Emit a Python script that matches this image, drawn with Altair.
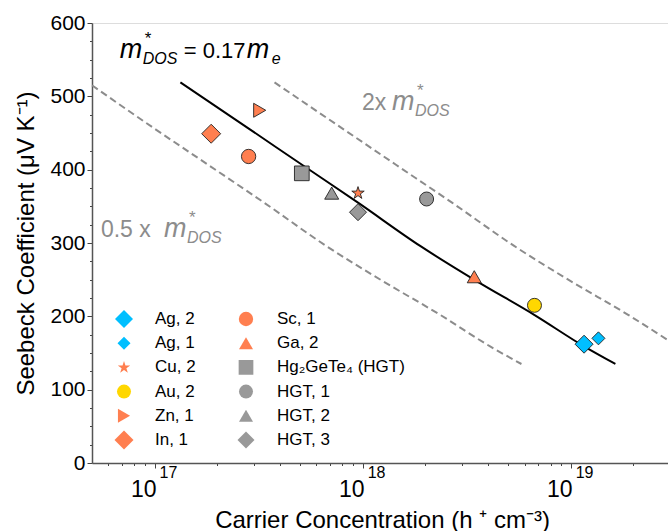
import altair as alt
import pandas as pd

# ---------------- data ----------------
series = ["Ag, 2", "Ag, 1", "Cu, 2", "Au, 2", "Zn, 1", "In, 1",
          "Sc, 1", "Ga, 2", "Hg\u2082GeTe\u2084 (HGT)", "HGT, 1", "HGT, 2", "HGT, 3"]
carrier = [1.16e19, 1.36e19, 9.5e17, 6.7e18, 3.2e17, 1.87e17,
           2.83e17, 3.44e18, 5.1e17, 2.03e18, 7.1e17, 9.5e17]
seebeck = [162, 170, 368, 215, 481, 449, 418, 254, 395, 360, 368, 342]

STAR = ("M0,-1L0.2245,-0.309L0.9511,-0.309L0.3633,0.118L0.5878,0.809L0,0.382"
        "L-0.5878,0.809L-0.3633,0.118L-0.9511,-0.309L-0.2245,-0.309Z")
colors = ["#00BFFF", "#00BFFF", "#FF7F50", "#FFD700", "#FF7F50", "#FF7F50",
          "#FF7F50", "#FF7F50", "#999999", "#999999", "#999999", "#999999"]
shapes = ["diamond", "diamond", STAR, "circle", "triangle-right", "diamond",
          "circle", "triangle-up", "square", "circle", "triangle-up", "diamond"]
sizes = [324, 169, 170, 196, 196, 361, 205, 196, 216, 196, 196, 289]

# model curve m*_DOS = 0.17 me
fit_n = [1.33e17, 2.87e17, 5.09e17, 9.5e17, 1.89e18, 3.53e18, 6.68e18, 1.16e19, 1.64e19]
fit_S = [519, 455, 407, 355, 296, 248, 202, 159, 135]
# 2x m*_DOS
up_n = [3.77e17, 8.1e17, 1.44e18, 2.69e18, 5.35e18, 1.0e19, 1.89e19, 3.07e19]
up_S = [519, 455, 407, 355, 296, 248, 202, 164]
# 0.5x m*_DOS
lo_n = [5.0e16, 1.01e17, 1.8e17, 3.36e17, 6.68e17, 1.25e18, 2.36e18, 4.1e18, 5.8e18]
lo_S = [515, 455, 407, 355, 296, 248, 202, 159, 135]

x_major = [1e17, 1e18, 1e19]
x_exp = ["17", "18", "19"]
x_ticks = [6e16, 7e16, 8e16, 9e16, 1e17, 2e17, 3e17, 4e17, 5e17, 6e17, 7e17, 8e17, 9e17,
           1e18, 2e18, 3e18, 4e18, 5e18, 6e18, 7e18, 8e18, 9e18, 1e19, 2e19, 3e19]
y_ticks = list(range(0, 601, 25))

# ---------------- chart ----------------
FONT = "Liberation Sans"
W, H = 580, 440

xscale = alt.Scale(type="log", domain=[5e16, 3.07e19], nice=False)
yscale = alt.Scale(domain=[0, 600], nice=False, zero=False)

xaxis = alt.Axis(values=x_ticks, labels=False, grid=False,
                 tickSize={"condition": {"test": "indexof([1e17,1e18,1e19], datum.value) >= 0", "value": 5}, "value": 2.5},
                 tickColor="#444", tickWidth=1, domainColor="#555", domainWidth=1.5,
                 title="Carrier Concentration (h \u207a cm\u207b\u00b3)", titleFont=FONT,
                 titleFontSize=24, titleFontWeight="normal", titleColor="black",
                 titleY=64, titleBaseline="alphabetic")
yaxis = alt.Axis(values=y_ticks, grid=False,
                 labelExpr="datum.value % 100 == 0 ? datum.label : ''",
                 tickSize={"condition": {"test": "datum.value % 100 == 0", "value": 5}, "value": 2.5},
                 tickColor="#444", tickWidth=1, domainColor="#555", domainWidth=1.5,
                 labelFont=FONT, labelFontSize=21, labelColor="black", labelPadding=2,
                 title="Seebeck Coefficient (\u03bcV K\u207b\u00b9)", titleFont=FONT,
                 titleFontSize=24, titleFontWeight="normal", titleColor="black",
                 titleX=-59, titleBaseline="alphabetic")


def X():
    return alt.X("n:Q", scale=xscale, axis=xaxis)


def Y(field="S"):
    return alt.Y(field + ":Q", scale=yscale, axis=yaxis)


fit_df = pd.DataFrame({"n": fit_n, "S": fit_S})
up_df = pd.DataFrame({"n": up_n, "S": up_S})
lo_df = pd.DataFrame({"n": lo_n, "S": lo_S})

fit_line = alt.Chart(fit_df).mark_line(color="black", strokeWidth=2, interpolate="monotone").encode(x=X(), y=Y())
up_line = alt.Chart(up_df).mark_line(color="#8c8c8c", strokeWidth=2, strokeDash=[7, 4],
                                     interpolate="monotone", clip=True).encode(x=X(), y=Y())
lo_line = alt.Chart(lo_df).mark_line(color="#8c8c8c", strokeWidth=2, strokeDash=[7, 4],
                                     interpolate="monotone").encode(x=X(), y=Y())

pts_df = pd.DataFrame({"n": carrier, "S": seebeck, "series": series})
legend = alt.Legend(orient="none", legendX=22, legendY=286, columns=2, title=None,
                    labelFont=FONT, labelFontSize=17, labelColor="black",
                    symbolStrokeColor="#222", symbolStrokeWidth=1, symbolOpacity=1,
                    rowPadding=4.2, columnPadding=40, labelOffset=21, clipHeight=20, padding=0)
points = alt.Chart(pts_df).mark_point(filled=True, opacity=1, stroke="#222", strokeWidth=0.9).encode(
    x=X(), y=Y(),
    color=alt.Color("series:N", scale=alt.Scale(domain=series, range=colors), legend=legend),
    shape=alt.Shape("series:N", scale=alt.Scale(domain=series, range=shapes), legend=legend),
    size=alt.Size("series:N", scale=alt.Scale(type="ordinal", domain=series, range=sizes), legend=legend),
)

# annotations: anchor in data coordinates, pieces offset in pixels
ann_layers = []
annotations = [
    # (anchor n, anchor S, color, pieces: text, dx, dy, size, style)
    (6.8e16, 552, "black", [("m", 0, 0, 27, "italic"), ("*", 25, -14, 17, "normal"),
                            ("DOS", 23, 6, 16, "italic"), ("= 0.17", 64, 0, 22, "normal"),
                            ("m", 127, 0, 27, "italic"), ("e", 152, 6, 16, "italic")]),
    (9.92e17, 482, "#8c8c8c", [("2x", 0, 0, 23, "normal"), ("m", 30, 0, 27, "italic"),
                                ("*", 55, -14, 17, "normal"), ("DOS", 53, 6, 16, "italic")]),
    (5.52e16, 308.6, "#8c8c8c", [("0.5 x", 0, 0, 23, "normal"), ("m", 63, 0, 27, "italic"),
                                  ("*", 88, -14, 17, "normal"), ("DOS", 86, 6, 16, "italic")]),
]
for an_n, an_S, col, pieces in annotations:
    adf = pd.DataFrame({"n": [an_n], "S": [an_S]})
    for txt, dx, dy, fs, style in pieces:
        ann_layers.append(
            alt.Chart(adf).mark_text(text=txt, align="left", baseline="alphabetic", dx=dx, dy=dy,
                                     font=FONT, fontSize=fs, fontStyle=style, color=col)
            .encode(x=X(), y=Y())
        )

# x tick labels 10^k  (placed below the axis through the y scale)
tick_layers = []
for val, ex in zip(x_major, x_exp):
    tdf = pd.DataFrame({"n": [val], "S": [-46.4], "S2": [-20.5]})
    tick_layers.append(
        alt.Chart(tdf).mark_text(text="10", align="right", baseline="alphabetic", dx=2,
                                 font=FONT, fontSize=23, color="black").encode(x=X(), y=Y("S")))
    tick_layers.append(
        alt.Chart(tdf).mark_text(text=ex, align="left", baseline="alphabetic", dx=5,
                                 font=FONT, fontSize=16, color="black").encode(x=X(), y=Y("S2")))

chart = alt.layer(lo_line, up_line, fit_line, points, *ann_layers, *tick_layers).properties(
    width=W, height=H,
    autosize=alt.AutoSizeParams(type="none"),
    padding={"left": 92, "top": 23, "right": -4, "bottom": 68},
).configure_view(stroke="#555", strokeWidth=1.5).configure(background="white")

chart.save("out.html", embed_options={"renderer": "svg", "actions": False})
